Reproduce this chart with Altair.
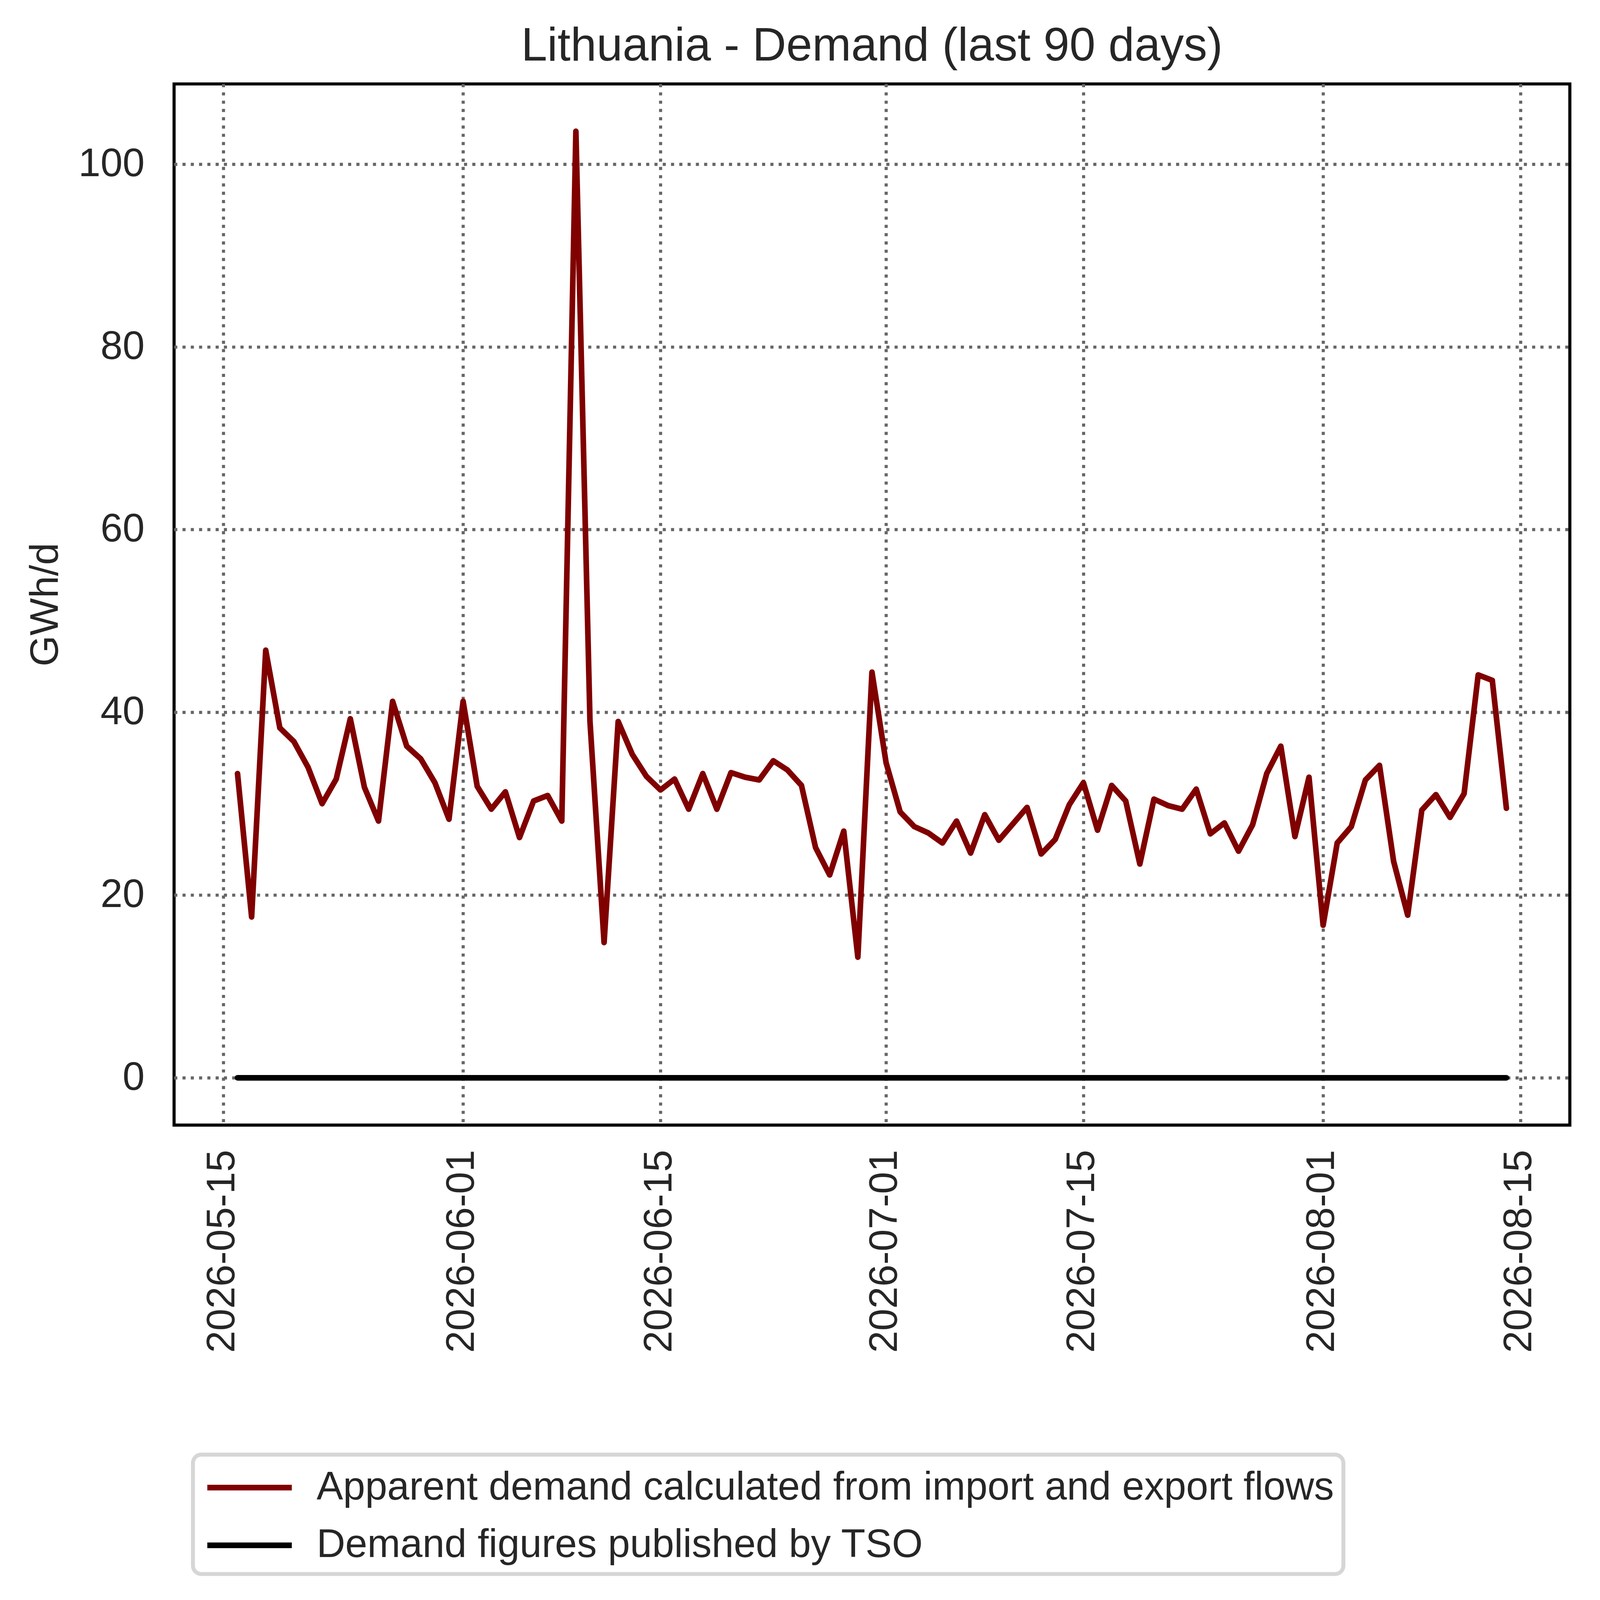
import altair as alt
import pandas as pd

# ---------------- data ----------------
start_date = "2026-05-16"
n_days = 91
dates = pd.date_range(start_date, periods=n_days, freq="D").strftime("%Y-%m-%d").tolist()

series_names = [
    "Apparent demand calculated from import and export flows",
    "Demand figures published by TSO",
]
series_colors = ["#800000", "#000000"]

apparent = [
    # May 16 - 31
    33.3, 17.6, 46.8, 38.3, 36.8, 34.0, 30.0, 32.7, 39.3, 31.8, 28.1, 41.2, 36.3, 34.9, 32.3, 28.3,
    # June 1 - 15
    41.2, 31.9, 29.4, 31.3, 26.3, 30.3, 30.9, 28.1, 103.6, 39.0, 14.8, 39.0, 35.4, 33.0, 31.5,
    # June 16 - 30
    32.7, 29.4, 33.3, 29.4, 33.4, 32.9, 32.6, 34.7, 33.7, 32.0, 25.2, 22.2, 27.0, 13.2, 44.4,
    # July 1 - 15
    34.5, 29.1, 27.5, 26.8, 25.7, 28.1, 24.6, 28.8, 26.0, 27.8, 29.6, 24.5, 26.1, 29.9, 32.3,
    # July 16 - 31
    27.1, 32.0, 30.3, 23.4, 30.5, 29.8, 29.4, 31.6, 26.7, 27.9, 24.8, 27.7, 33.3, 36.3, 26.4, 32.9,
    # Aug 1 - 14
    16.7, 25.7, 27.5, 32.6, 34.2, 23.7, 17.8, 29.3, 31.0, 28.5, 31.1, 44.1, 43.5, 29.5,
]

tso = [
    0, 0, 0, 0, 0, 0, 0, 0, 0, 0, 0, 0, 0, 0, 0, 0,
    0, 0, 0, 0, 0, 0, 0, 0, 0, 0, 0, 0, 0, 0, 0,
    0, 0, 0, 0, 0, 0, 0, 0, 0, 0, 0, 0, 0, 0, 0,
    0, 0, 0, 0, 0, 0, 0, 0, 0, 0, 0, 0, 0, 0, 0,
    0, 0, 0, 0, 0, 0, 0, 0, 0, 0, 0, 0, 0, 0, 0, 0,
    0, 0, 0, 0, 0, 0, 0, 0, 0, 0, 0, 0, 0, 0,
]

x_tick_dates = ["2026-05-15", "2026-06-01", "2026-06-15", "2026-07-01",
                "2026-07-15", "2026-08-01", "2026-08-15"]
y_ticks = [0, 20, 40, 60, 80, 100]

# ---------------- table ----------------
df = pd.DataFrame({
    "date": dates * 2,
    "value": apparent + tso,
    "series": [series_names[0]] * len(dates) + [series_names[1]] * len(dates),
    "order": [0] * len(dates) + [1] * len(dates),
})


def utc_dt(s, hours=0):
    y, m, d = (int(p) for p in s.split("-"))
    return alt.DateTime(year=y, month=m, date=d, hours=hours, utc=True)


FONT = "Liberation Sans"
TXT = "#262626"

x_enc = alt.X(
    "date:T",
    scale=alt.Scale(type="utc", domain=[utc_dt("2026-05-11", 12), utc_dt("2026-08-18", 12)]),
    axis=alt.Axis(
        values=[utc_dt(s) for s in x_tick_dates],
        labelExpr="utcFormat(datum.value, '%Y-%m-%d')",
        labelAngle=270,
        labelAlign="right",
        labelBaseline="middle",
        labelPadding=87,
        labelOffset=-4,
        labelLimit=2000,
        title=None,
    ),
)

y_enc = alt.Y(
    "value:Q",
    scale=alt.Scale(domain=[-5.18, 108.78], nice=False, zero=False),
    axis=alt.Axis(
        values=y_ticks,
        format="d",
        labelPadding=105,
        labelLimit=2000,
        title="GWh/d",
        titleX=-413,
        titleY=1848.5,
        titleAngle=270,
        titleAlign="center",
        titleBaseline="alphabetic",
    ),
)

color_enc = alt.Color(
    "series:N",
    scale=alt.Scale(domain=series_names, range=series_colors),
    legend=alt.Legend(
        title=None,
        orient="none",
        legendX=67,
        legendY=4867,
        symbolType="M-2,0H2",
        symbolSize=22500,
        symbolStrokeWidth=20,
        symbolOffset=84,
        labelOffset=153,
        rowPadding=50,
        padding=32,
        labelFontSize=141,
        labelFont=FONT,
        labelColor=TXT,
        labelLimit=0,
        strokeColor="#d6d6d6",
        fillColor="#ffffff",
        cornerRadius=30,
    ),
)

chart = (
    alt.Chart(df)
    .mark_line(strokeWidth=20, strokeCap="round", strokeJoin="round")
    .encode(x=x_enc, y=y_enc, color=color_enc, order="order:Q")
    .properties(
        width=4956,
        height=3697,
        autosize=alt.AutoSizeParams(type="none"),
        padding={"left": 607, "top": -817, "right": 96, "bottom": 2825},
        title=alt.TitleParams(
            "Lithuania - Demand (last 90 days)",
            font=FONT,
            fontSize=166,
            fontWeight="normal",
            color=TXT,
            anchor="middle",
            frame="group",
            baseline="alphabetic",
            offset=84,
            dy=167,
        ),
    )
    .configure(background="white")
    .configure_view(stroke="#000000", strokeWidth=11)
    .configure_legend(strokeWidth=14)
    .configure_axis(
        grid=True,
        gridColor="#666666",
        gridWidth=11,
        gridDash=[11, 18.4],
        domain=False,
        ticks=False,
        tickSize=0,
        labelFont=FONT,
        labelFontSize=141,
        labelColor=TXT,
        titleFont=FONT,
        titleFontSize=141,
        titleFontWeight="normal",
        titleColor=TXT,
    )
)

chart.save("out.html", embed_options={"renderer": "svg", "actions": False})
